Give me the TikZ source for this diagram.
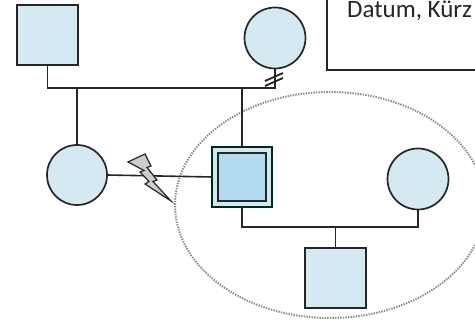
\documentclass[tikz,border=0pt]{standalone}
\usepackage{fontspec}
\setmainfont{Carlito}
\begin{document}
\begin{tikzpicture}[x=1pt,y=-1pt,
  line/.style={draw=black!85,line width=1.6pt},
  person/.style={draw=black!85,line width=1.7pt,fill=pfill,inner sep=0pt,outer sep=0pt},
  male/.style={person,rectangle,minimum width=61pt,minimum height=60pt},
  female/.style={person,circle,minimum size=60pt}]
\definecolor{pfill}{HTML}{D4E9F1}
\definecolor{idxfill}{HTML}{B2DBF0}
\definecolor{idxframe}{HTML}{CFEAEA}
\clip (0,0) rectangle (475,320);
\fill[white] (0,0) rectangle (475,320);

% family unit of the index person
\draw[gray!90,line width=2pt,dash pattern=on 1.4pt off 1.2pt] (330,205) ellipse [x radius=155, y radius=113];

% note box
\draw[black!85,line width=2pt] (327,-10) rectangle (490,70);
\node[anchor=base west,inner sep=0pt,font=\fontsize{25}{29}\selectfont,text=black!85] (note) at (347,18) {Datum, Kürz};

% persons
\node[male] (gf) at (47.5,35) {};
\node[female,minimum size=61pt] (gm) at (275,38) {};
\node[female] (mo) at (77,175) {};
\node[person,rectangle,fill=idxframe,draw=black!70!teal,line width=1.5pt,minimum size=60pt] (idx) at (242,177) {};
\node[person,rectangle,fill=idxfill,line width=2.2pt,minimum size=48pt] (idxin) at (idx.center) {};
\node[female,minimum size=61pt] (sp) at (418,179) {};
\node[male] (ch) at (335.5,278) {};

% couple and descent lines
\coordinate (gj) at (275,88);
\coordinate (cj) at (418,227);
\draw[line] (gf.south) |- (gj) -- (gm.south);
\draw[line] (mo.north) -- (mo.north |- gj);
\draw[line] (idx.north) -- (idx.north |- gj);
\draw[line] (mo.east) -- (idx.west);
\draw[line] (idx.south) |- (cj) -- (sp.south);
\draw[line] (ch.north) -- (ch.north |- cj);

% separation marks
\draw[line,line width=1.8pt] (265,81) -- (283,73);
\draw[line,line width=1.8pt] (265,86) -- (283,78);

% conflict bolt
\draw[black!85,line width=1.2pt,fill=gray!40,line join=miter]
  (128,162) -- (145,154) -- (151,166) -- (147,167.5) -- (157,180) -- (153,181.5) -- (171,201)
  -- (145,184) -- (149,181.5) -- (140,172) -- (144,170.5) -- cycle;
\end{tikzpicture}
\end{document}
